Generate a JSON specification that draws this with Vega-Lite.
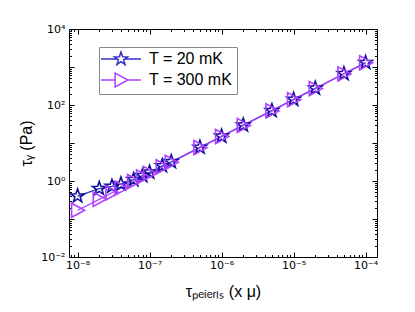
{
  "$schema": "https://vega.github.io/schema/vega-lite/v6.json",
  "width": 308,
  "height": 228,
  "autosize": "none",
  "padding": {"left": 69, "top": 29, "right": 38, "bottom": 55},
  "background": "white",
  "config": {
    "view": {"stroke": null},
    "font": "Liberation Sans",
    "axis": {
      "grid": false,
      "domainColor": "black",
      "tickColor": "black",
      "labelColor": "black",
      "titleColor": "black",
      "labelFont": "DejaVu Sans",
      "titleFont": "Liberation Sans",
      "labelFontSize": 11,
      "titleFontSize": 16,
      "titleFontWeight": "normal"
    }
  },
  "data": {
    "values": [
      {"x": 1e-8, "y": 0.4, "s": "T = 20 mK", "m": "star"},
      {"x": 2e-8, "y": 0.63, "s": "T = 20 mK", "m": "star"},
      {"x": 3e-8, "y": 0.72, "s": "T = 20 mK", "m": "star"},
      {"x": 4e-8, "y": 0.83, "s": "T = 20 mK", "m": "star"},
      {"x": 6e-8, "y": 1.08, "s": "T = 20 mK", "m": "star"},
      {"x": 8e-8, "y": 1.38, "s": "T = 20 mK", "m": "star"},
      {"x": 1e-7, "y": 1.7, "s": "T = 20 mK", "m": "star"},
      {"x": 1.5e-7, "y": 2.5, "s": "T = 20 mK", "m": "star"},
      {"x": 2e-7, "y": 3.2, "s": "T = 20 mK", "m": "star"},
      {"x": 5e-7, "y": 7.7, "s": "T = 20 mK", "m": "star"},
      {"x": 1e-6, "y": 15, "s": "T = 20 mK", "m": "star"},
      {"x": 2e-6, "y": 29.5, "s": "T = 20 mK", "m": "star"},
      {"x": 5e-6, "y": 71, "s": "T = 20 mK", "m": "star"},
      {"x": 1e-5, "y": 140, "s": "T = 20 mK", "m": "star"},
      {"x": 2e-5, "y": 275, "s": "T = 20 mK", "m": "star"},
      {"x": 5e-5, "y": 665, "s": "T = 20 mK", "m": "star"},
      {"x": 1e-4, "y": 1300, "s": "T = 20 mK", "m": "star"},
      {"x": 1e-8, "y": 0.17, "s": "T = 300 mK", "m": "tri"},
      {"x": 2e-8, "y": 0.33, "s": "T = 300 mK", "m": "tri"},
      {"x": 3e-8, "y": 0.49, "s": "T = 300 mK", "m": "tri"},
      {"x": 4e-8, "y": 0.65, "s": "T = 300 mK", "m": "tri"},
      {"x": 6e-8, "y": 0.97, "s": "T = 300 mK", "m": "tri"},
      {"x": 8e-8, "y": 1.28, "s": "T = 300 mK", "m": "tri"},
      {"x": 1e-7, "y": 1.58, "s": "T = 300 mK", "m": "tri"},
      {"x": 1.5e-7, "y": 2.35, "s": "T = 300 mK", "m": "tri"},
      {"x": 2e-7, "y": 3.1, "s": "T = 300 mK", "m": "tri"},
      {"x": 5e-7, "y": 7.55, "s": "T = 300 mK", "m": "tri"},
      {"x": 1e-6, "y": 14.8, "s": "T = 300 mK", "m": "tri"},
      {"x": 2e-6, "y": 29, "s": "T = 300 mK", "m": "tri"},
      {"x": 5e-6, "y": 70, "s": "T = 300 mK", "m": "tri"},
      {"x": 1e-5, "y": 138, "s": "T = 300 mK", "m": "tri"},
      {"x": 2e-5, "y": 270, "s": "T = 300 mK", "m": "tri"},
      {"x": 5e-5, "y": 658, "s": "T = 300 mK", "m": "tri"},
      {"x": 1e-4, "y": 1290, "s": "T = 300 mK", "m": "tri"}
    ]
  },
  "layer": [
    {
      "mark": {"type": "line", "strokeWidth": 1.3},
      "encoding": {
        "x": {
          "field": "x", "type": "quantitative",
          "scale": {"type": "log", "domain": [7.6e-9, 1.44e-4], "nice": false},
          "axis": {
            "orient": "bottom",
            "title": "τₚₑᵢₑᵣₗₛ (x μ)",
            "titlePadding": 11,
            "values": [8e-9, 9e-9, 1e-8, 2e-8, 3e-8, 4e-8, 5e-8, 6e-8, 7e-8, 8e-8, 9e-8, 1e-7, 2e-7, 3e-7, 4e-7, 5e-7, 6e-7, 7e-7, 8e-7, 9e-7, 1e-6, 2e-6, 3e-6, 4e-6, 5e-6, 6e-6, 7e-6, 8e-6, 9e-6, 1e-5, 2e-5, 3e-5, 4e-5, 5e-5, 6e-5, 7e-5, 8e-5, 9e-5, 1e-4],
            "labelExpr": "abs(log(datum.value)/LN10 - round(log(datum.value)/LN10)) > 0.01 ? '' : (round(log(datum.value)/LN10) == -8 ? '10⁻⁸' : round(log(datum.value)/LN10) == -7 ? '10⁻⁷' : round(log(datum.value)/LN10) == -6 ? '10⁻⁶' : round(log(datum.value)/LN10) == -5 ? '10⁻⁵' : '10⁻⁴')",
            "tickSize": {"condition": {"test": "abs(log(datum.value)/LN10 - round(log(datum.value)/LN10)) < 0.01", "value": -5}, "value": -2.5},
            "labelPadding": 7,
            "labelOverlap": false,
            "labelFlush": false
          }
        },
        "y": {
          "field": "y", "type": "quantitative",
          "scale": {"type": "log", "domain": [0.01, 10000], "nice": false},
          "axis": {
            "orient": "left",
            "title": "τᵧ (Pa)",
            "titlePadding": 6,
            "values": [0.01, 0.02, 0.03, 0.04, 0.05, 0.06, 0.07, 0.08, 0.09, 0.1, 0.2, 0.3, 0.4, 0.5, 0.6, 0.7, 0.8, 0.9, 1, 2, 3, 4, 5, 6, 7, 8, 9, 10, 20, 30, 40, 50, 60, 70, 80, 90, 100, 200, 300, 400, 500, 600, 700, 800, 900, 1000, 2000, 3000, 4000, 5000, 6000, 7000, 8000, 9000, 10000],
            "labelExpr": "abs(log(datum.value)/LN10 - round(log(datum.value)/LN10)) > 0.01 ? '' : (round(log(datum.value)/LN10) == -2 ? '10⁻²' : round(log(datum.value)/LN10) == 0 ? '10⁰' : round(log(datum.value)/LN10) == 2 ? '10²' : round(log(datum.value)/LN10) == 4 ? '10⁴' : '')",
            "tickSize": {"condition": {"test": "abs(log(datum.value)/LN10 - round(log(datum.value)/LN10)) < 0.01", "value": -5}, "value": -2.5},
            "labelPadding": 9,
            "labelOverlap": false,
            "labelFlush": false
          }
        },
        "color": {
          "field": "s", "type": "nominal",
          "scale": {"domain": ["T = 20 mK", "T = 300 mK"], "range": ["#3232c8", "#b040ff"]},
          "legend": {
            "title": null,
            "orient": "none",
            "legendX": 30,
            "legendY": 18,
            "direction": "vertical",
            "padding": 4,
            "strokeColor": "#8a8a8a",
            "fillColor": "white",
            "labelFont": "Liberation Sans",
            "labelFontSize": 16,
            "labelColor": "black",
            "symbolSize": 190,
            "symbolOffset": 10,
            "labelOffset": 20,
            "rowPadding": 2,
            "encode": {
              "symbols": {
                "update": {
                  "shape": {"signal": "datum.value == 'T = 20 mK' ? 'M-2.9,0L-0.62,0M0.62,0L2.9,0M0,-1L0.235,-0.324L0.951,-0.309L0.38,0.124L0.588,0.809L0,0.4L-0.588,0.809L-0.38,0.124L-0.951,-0.309L-0.235,-0.324Z' : 'M-2.9,0L-0.85,0M1,0L2.9,0M-0.85,-1L1,0L-0.85,1Z'"},
                  "stroke": {"signal": "datum.value == 'T = 20 mK' ? '#1a1aa8' : '#b040ff'"},
                  "fill": {"value": "transparent"},
                  "strokeWidth": {"value": 1.5},
                  "size": {"value": 190}
                }
              }
            }
          }
        }
      }
    },
    {
      "mark": {"type": "point", "filled": false, "strokeWidth": 1.6, "size": 200, "opacity": 1},
      "encoding": {
        "x": {
          "field": "x", "type": "quantitative",
          "scale": {"type": "log", "domain": [7.6e-9, 1.44e-4], "nice": false},
          "axis": {
            "orient": "top",
            "title": null,
            "labels": false,
            "values": [8e-9, 9e-9, 1e-8, 2e-8, 3e-8, 4e-8, 5e-8, 6e-8, 7e-8, 8e-8, 9e-8, 1e-7, 2e-7, 3e-7, 4e-7, 5e-7, 6e-7, 7e-7, 8e-7, 9e-7, 1e-6, 2e-6, 3e-6, 4e-6, 5e-6, 6e-6, 7e-6, 8e-6, 9e-6, 1e-5, 2e-5, 3e-5, 4e-5, 5e-5, 6e-5, 7e-5, 8e-5, 9e-5, 1e-4],
            "tickSize": {"condition": {"test": "abs(log(datum.value)/LN10 - round(log(datum.value)/LN10)) < 0.01", "value": -5}, "value": -2.5}
          }
        },
        "y": {
          "field": "y", "type": "quantitative",
          "scale": {"type": "log", "domain": [0.01, 10000], "nice": false},
          "axis": {
            "orient": "right",
            "title": null,
            "labels": false,
            "values": [0.01, 0.02, 0.03, 0.04, 0.05, 0.06, 0.07, 0.08, 0.09, 0.1, 0.2, 0.3, 0.4, 0.5, 0.6, 0.7, 0.8, 0.9, 1, 2, 3, 4, 5, 6, 7, 8, 9, 10, 20, 30, 40, 50, 60, 70, 80, 90, 100, 200, 300, 400, 500, 600, 700, 800, 900, 1000, 2000, 3000, 4000, 5000, 6000, 7000, 8000, 9000, 10000],
            "tickSize": {"condition": {"test": "abs(log(datum.value)/LN10 - round(log(datum.value)/LN10)) < 0.01", "value": -5}, "value": -2.5}
          }
        },
        "shape": {
          "field": "m", "type": "nominal",
          "scale": {"domain": ["star", "tri"], "range": ["M0,-1L0.235,-0.324L0.951,-0.309L0.38,0.124L0.588,0.809L0,0.4L-0.588,0.809L-0.38,0.124L-0.951,-0.309L-0.235,-0.324Z", "M-0.85,-1L1,0L-0.85,1Z"]},
          "legend": null
        },
        "stroke": {
          "field": "m", "type": "nominal",
          "scale": {"domain": ["star", "tri"], "range": ["#10109c", "#b040ff"]},
          "legend": null
        }
      }
    }
  ],
  "resolve": {"axis": {"x": "independent", "y": "independent"}}
}
